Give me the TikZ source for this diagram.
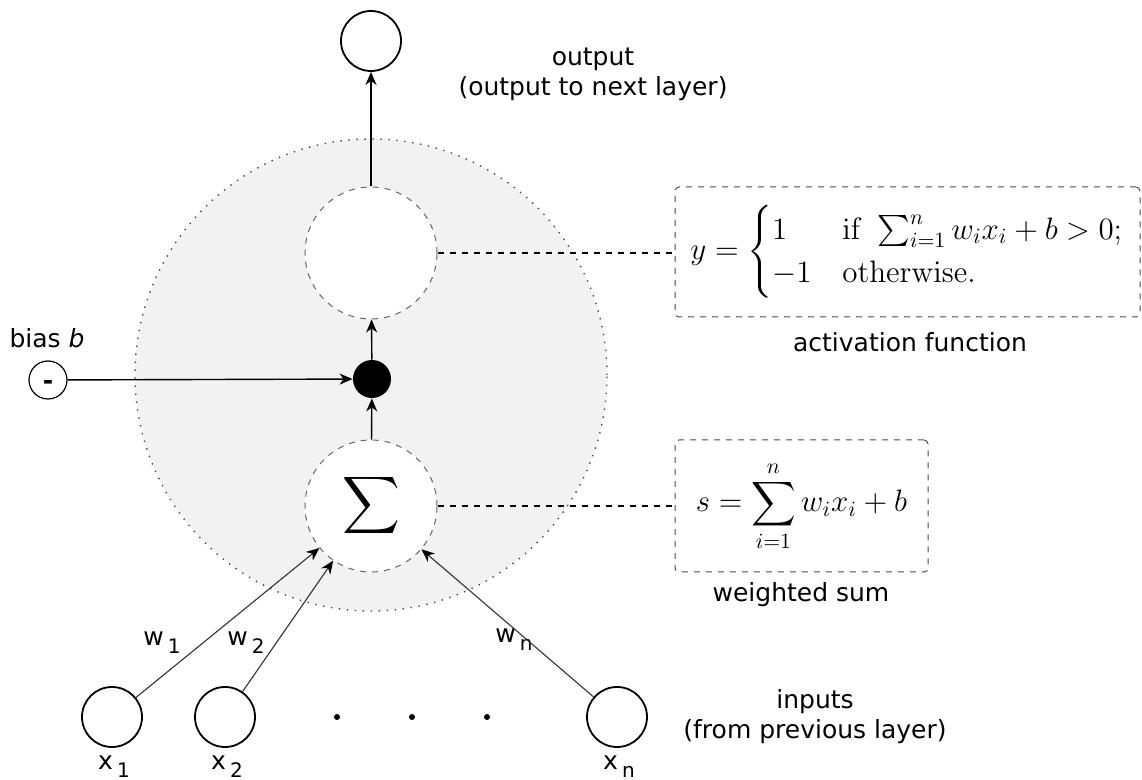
\RequirePackage{fix-cm}
\documentclass[tikz,border=0pt]{standalone}
\usepackage{amsmath,amssymb}
\usepackage[no-math]{fontspec}
\setmainfont{DejaVu Sans}
\usepackage{tikz}
\usetikzlibrary{arrows.meta, positioning, calc}
\newcommand{\subidx}[2]{#1\,\raisebox{-0.6ex}{\fontsize{10}{12}\selectfont #2}}
\tikzset{
    unit/.style={circle, draw, line width=0.9pt, minimum size=30pt, inner sep=0pt},
    inner_unit/.style={circle, draw=gray!80!black, dashed, fill=white, line width=0.5pt, minimum size=66pt, inner sep=0pt},
    info_box/.style={draw=gray!60!black, dashed, rounded corners=2pt, line width=0.5pt, inner sep=0pt},
    link/.style={-{Stealth[length=6.5pt, width=5.5pt, inset=2pt]}, line width=0.7pt},
    weight_line/.style={-{Stealth[length=6.5pt, width=5.5pt, inset=2pt, color=black]}, draw=gray!40!black, line width=0.55pt},
    dashed_line/.style={dashed, line width=0.6pt},
    every node/.style={font=\fontsize{12.5}{15}\selectfont}
}

\begin{document}
\begin{tikzpicture}[x=0.5pt, y=-0.5pt]
    \useasboundingbox (0,0) rectangle (1142,780);
    % Neuron body
    \fill[black!5] (371,375) circle (118pt);
    \draw[gray!60!black, line width=0.7pt, dash pattern=on 0.7pt off 3.3pt] (371,375) circle (118pt);
    %
    % Units inside the neuron
    \node[unit] (out) at (371,41) {};
    \node[inner_unit] (act) at (371,253) {};
    \node[circle, fill=black, minimum size=19pt, inner sep=0pt] (dot) at (372,379) {};
    \node[inner_unit] (sum) at (371,506) {\fontsize{20}{24}\selectfont$\displaystyle\sum$};
    \node[unit, minimum size=19pt, line width=0.6pt] (bias) at (48,380) {\strut\raisebox{-1.8pt}{\textbf{-}}};
    \node (biaslbl) at (47,338) {bias \textit{b}};
    %
    % Inputs
    \node[unit] (x1) at (112,717) {};
    \node[unit] (x2) at (225,717) {};
    \node[unit] (xn) at (617,717) {};
    \foreach \px in {337,412,487}
        \fill (\px,717) circle (1.5pt);
    \node (lx1) at (114,767) {\subidx{x}{1}};
    \node (lx2) at (227,767) {\subidx{x}{2}};
    \node (lxn) at (619,767) {\subidx{x}{n}};
    \node (lw1) at (162,643) {\subidx{w}{1}};
    \node (lw2) at (246,643) {\subidx{w}{2}};
    \node (lwn) at (514,640) {\subidx{w}{n}};
    %
    % Connections
    \draw[link] (act) -- (out);
    \draw[link] (dot) -- (act);
    \draw[link] (sum) -- (dot);
    \draw[link] (bias) -- (dot);
    \draw[weight_line] (x1) -- (sum);
    \draw[weight_line] (x2) -- (sum);
    \draw[weight_line] (xn) -- (sum);
    %
    % Formula boxes
    \node[info_box, minimum width=232.5pt, minimum height=65pt] (actbox) at (907.5,252)
        {\fontsize{15.5}{18}\selectfont$y=\begin{cases}1 & \mathrm{if}\ \sum_{i=1}^n w_i x_i + b > 0;\\ -1 & \mathrm{otherwise.}\end{cases}$};
    \node[info_box, minimum width=126.5pt, minimum height=66pt] (sumbox) at (801.5,506)
        {\fontsize{15.5}{18}\selectfont$s=\displaystyle\sum_{i=1}^{n} w_i x_i + b$};
    \draw[dashed_line] (act.east) -- (act.east -| actbox.west);
    \draw[dashed_line] (sum.east) -- (sum.east -| sumbox.west);
    %
    % Labels
    \node (actlbl) at (910,342) {activation function};
    \node (sumlbl) at (801,595) {weighted sum};
    \node[align=center] (outlbl) at (593,74) {output\\(output to next layer)};
    \node[align=center] (inlbl) at (815,717) {inputs\\(from previous layer)};
\end{tikzpicture}
\end{document}
